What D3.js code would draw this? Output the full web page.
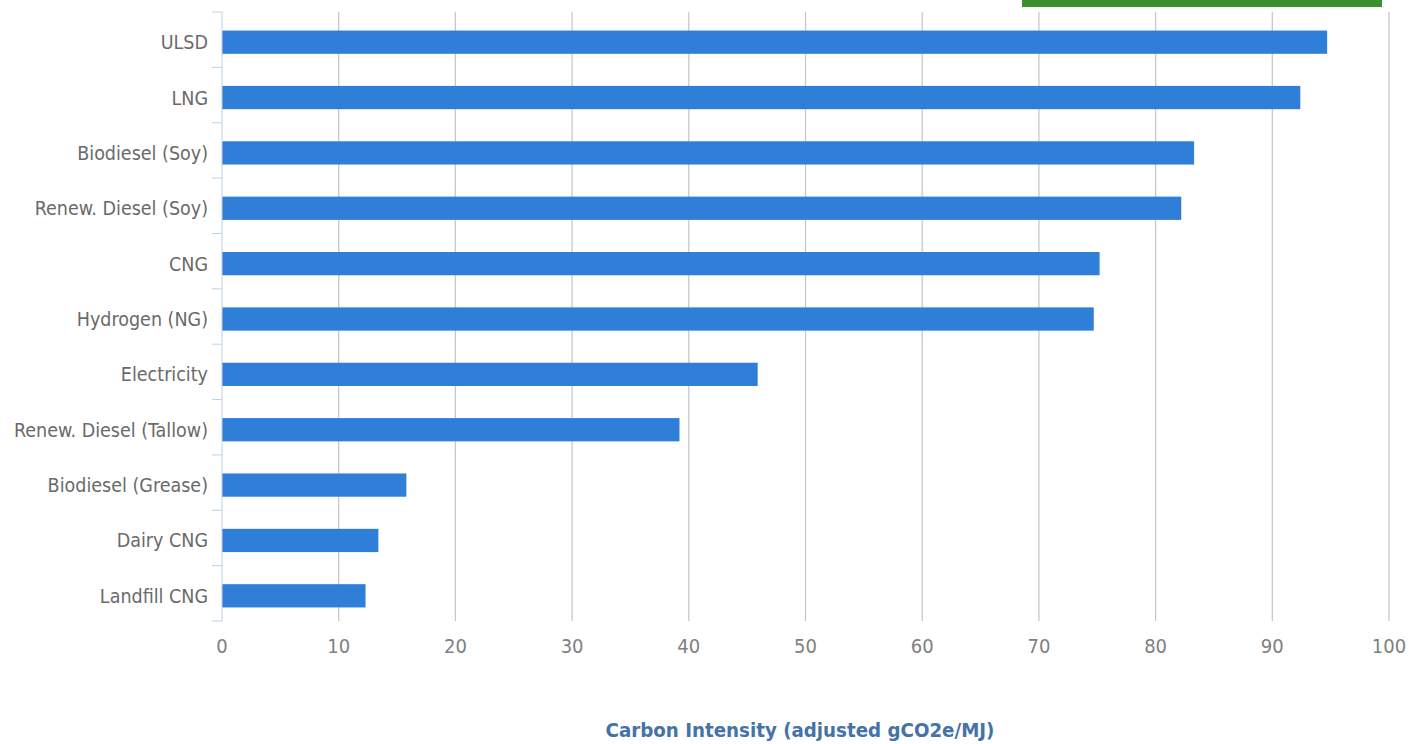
<!DOCTYPE html>
<meta charset="utf-8">
<script src="https://d3js.org/d3.v7.min.js"></script>
<style>
  body { margin: 0; background: #fff; }
  text { font-family: "DejaVu Sans Condensed", "DejaVu Sans", sans-serif; font-stretch: condensed; }
</style>
<svg id="chart" width="1424" height="744"></svg>
<script>

// fuels, top to bottom
const fuels = ["ULSD", "LNG", "Biodiesel (Soy)", "Renew. Diesel (Soy)", "CNG", "Hydrogen (NG)",
  "Electricity", "Renew. Diesel (Tallow)", "Biodiesel (Grease)", "Dairy CNG", "Landfill CNG"];
// carbon intensity, gCO2e/MJ
const intensity = [94.7, 92.4, 83.3, 82.2, 75.2, 74.7, 45.9, 39.2, 15.8, 13.4, 12.3];
const xTicks = [0, 10, 20, 30, 40, 50, 60, 70, 80, 90, 100];

const svg = d3.select("#chart");
const margin = {top: 12, left: 222, right: 35, bottom: 123};
const w = 1424 - margin.left - margin.right,
  h = 744 - margin.top - margin.bottom;

const g = svg.append("g").attr("transform", `translate(${margin.left},${margin.top})`);

const x = d3.scaleLinear().domain([0, 100]).range([0, w]);
const y = d3.scaleBand().domain(fuels).range([2.5, h + 2.5]).paddingInner(0.58).paddingOuter(0.29);

// green strip at top (cut off legend box)
svg.append("rect")
  .attr("x", 1022).attr("y", 0).attr("width", 360).attr("height", 7)
  .attr("fill", "#3a8f2e");

// vertical grid lines
g.append("g")
  .selectAll("line")
  .data(xTicks.slice(1))
  .join("line")
    .attr("x1", d => x(d)).attr("x2", d => x(d))
    .attr("y1", 0).attr("y2", h)
    .attr("stroke", "#c8c8c8").attr("stroke-width", 1.3);

// x tick labels
g.append("g")
  .selectAll("text")
  .data(xTicks)
  .join("text")
    .attr("x", d => x(d))
    .attr("y", h + 32)
    .attr("text-anchor", "middle")
    .attr("fill", "#808080")
    .attr("font-size", 20)
    .text(d => d);

// bars
g.append("g")
  .selectAll("rect")
  .data(fuels)
  .join("rect")
    .attr("x", 0)
    .attr("y", d => y(d))
    .attr("width", (d, i) => x(intensity[i]))
    .attr("height", y.bandwidth())
    .attr("fill", "#2f7ed8");

// y axis line + tick marks between categories
g.append("line")
  .attr("x1", 0).attr("x2", 0).attr("y1", 0).attr("y2", h)
  .attr("stroke", "#c0d0e0").attr("stroke-width", 1);

const step = y.step();
g.append("g")
  .selectAll("line")
  .data(d3.range(fuels.length + 1))
  .join("line")
    .attr("x1", -10).attr("x2", 0)
    .attr("y1", i => i * step).attr("y2", i => i * step)
    .attr("stroke", "#c0d0e0");

// category labels
g.append("g")
  .selectAll("text")
  .data(fuels)
  .join("text")
    .attr("x", -14)
    .attr("y", d => y(d) + y.bandwidth() / 2)
    .attr("dy", "0.36em")
    .attr("text-anchor", "end")
    .attr("fill", "#6a6a6a")
    .attr("font-size", 19.5)
    .text(d => d);

// axis title
svg.append("text")
  .attr("x", 800)
  .attr("y", 737)
  .attr("text-anchor", "middle")
  .attr("fill", "#4572a7")
  .attr("font-size", 20.3)
  .attr("font-weight", "bold")
  .text("Carbon Intensity (adjusted gCO2e/MJ)");
</script>
